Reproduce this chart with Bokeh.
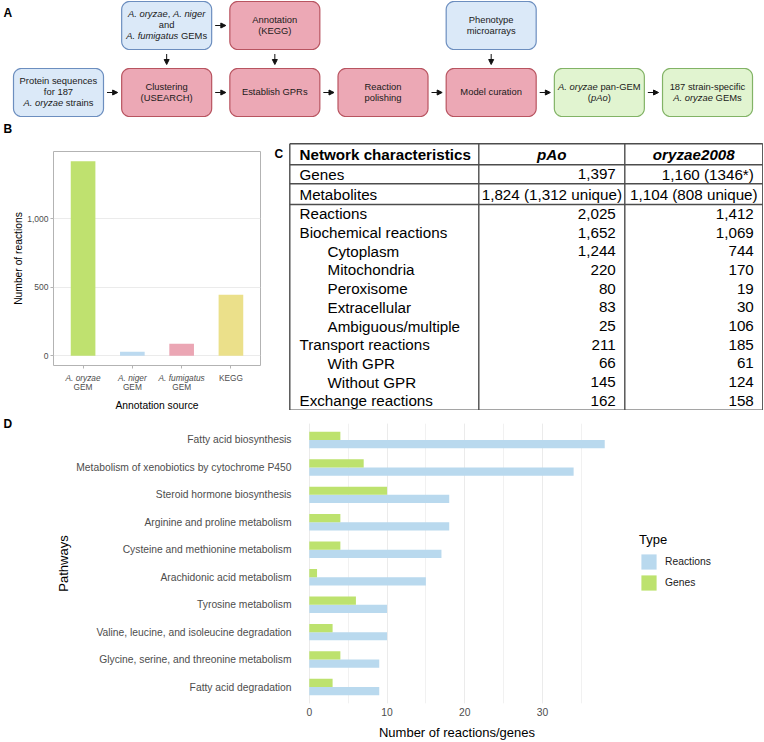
import math
from bokeh.plotting import figure
from bokeh.layouts import column, row
from bokeh.models import (Range1d, FactorRange, FixedTicker, NumeralTickFormatter,
                          SingleIntervalTicker, Legend, LegendItem, Arrow,
                          NormalHead, ColumnDataSource)
from bokeh.transform import dodge
from bokeh.core.properties import value
from bokeh.embed import file_html
from bokeh.resources import INLINE

FONT_NAME = "Liberation Sans"
FONT = value(FONT_NAME)

# ---------------- Panel A: workflow ----------------
flow_lower = ["Protein sequences|for 187|*A. oryzae* strains", "Clustering|(USEARCH)",
              "Establish GPRs", "Reaction|polishing", "Model curation",
              "*A. oryzae* pan-GEM|(*pAo*)", "187 strain-specific|*A. oryzae* GEMs"]
flow_lower_kind = ["input", "process", "process", "process", "process", "output", "output"]
flow_upper = ["*A. oryzae*, *A. niger*|and|*A. fumigatus* GEMs", "Annotation|(KEGG)",
              "Phenotype|microarrays"]
flow_upper_col = [1, 2, 4]
flow_upper_kind = ["input", "process", "input"]

# ---------------- Panel B: annotation sources ----------------
b_line1 = ["A. oryzae", "A. niger", "A. fumigatus", "KEGG"]
b_line2 = ["GEM", "GEM", "GEM", ""]
b_italic = [True, True, True, False]
b_values = [1420, 30, 88, 445]
b_colors = ["#bfe16f", "#bcdaf0", "#eba6b4", "#ebe08a"]
b_yticks = [0, 500, 1000]

# ---------------- Panel C: table ----------------
tbl_header = ["Network characteristics", "pAo", "oryzae2008"]
tbl_labels = ["Genes", "Metabolites", "Reactions", "Biochemical reactions", "Cytoplasm",
              "Mitochondria", "Peroxisome", "Extracellular", "Ambiguous/multiple",
              "Transport reactions", "With GPR", "Without GPR", "Exchange reactions"]
tbl_indent = [0, 0, 0, 0, 1, 1, 1, 1, 1, 0, 1, 1, 0]
tbl_pao = ["1,397", "1,824 (1,312 unique)", "2,025", "1,652", "1,244", "220", "80", "83",
           "25", "211", "66", "145", "162"]
tbl_ory = ["1,160 (1346*)", "1,104 (808 unique)", "1,412", "1,069", "744", "170", "19",
           "30", "106", "185", "61", "124", "158"]

# ---------------- Panel D: pathways ----------------
d_pathways = ["Fatty acid biosynthesis", "Metabolism of xenobiotics by cytochrome P450",
              "Steroid hormone biosynthesis", "Arginine and proline metabolism",
              "Cysteine and methionine metabolism", "Arachidonic acid metabolism",
              "Tyrosine metabolism", "Valine, leucine, and isoleucine degradation",
              "Glycine, serine, and threonine metabolism", "Fatty acid degradation"]
d_reactions = [38, 34, 18, 18, 17, 15, 10, 10, 9, 9]
d_genes = [4, 7, 10, 4, 4, 1, 6, 3, 4, 3]
d_types = ["Reactions", "Genes"]
d_colors = ["#b9d9ee", "#bde26e"]

# Arial / Liberation Sans advance widths (per 1000 em)
W = {' ': 278, 'a': 556, 'b': 556, 'c': 500, 'd': 556, 'e': 556, 'f': 278, 'g': 556,
     'h': 556, 'i': 222, 'j': 222, 'k': 500, 'l': 222, 'm': 833, 'n': 556, 'o': 556,
     'p': 556, 'q': 556, 'r': 333, 's': 500, 't': 278, 'u': 556, 'v': 500, 'w': 722,
     'x': 500, 'y': 500, 'z': 500, 'A': 667, 'B': 667, 'C': 722, 'D': 722, 'E': 667,
     'F': 611, 'G': 778, 'H': 722, 'I': 278, 'K': 667, 'M': 833, 'N': 722, 'O': 778,
     'P': 667, 'R': 722, 'S': 667, 'U': 722, '.': 278, ',': 278, '-': 333, '(': 333,
     ')': 333, '/': 278, '*': 389}


def text_width(s, size):
    return sum(W.get(ch, 556) for ch in s) * size / 1000.0


def parse(line):
    parts = line.split("*")
    return [(p, i % 2 == 1) for i, p in enumerate(parts) if p]


def rrect(l, r, t, b, rad, n=8):
    xs, ys = [], []
    corners = [(r - rad, t + rad, -90), (r - rad, b - rad, 0), (l + rad, b - rad, 90), (l + rad, t + rad, 180)]
    for cx, cy, a0 in corners:
        for k in range(n + 1):
            a = math.radians(a0 + 90.0 * k / n)
            xs.append(cx + rad * math.cos(a))
            ys.append(cy + rad * math.sin(a))
    return xs, ys


def canvas(w, h, xr, yr, left=0, right=0, top=0, bottom=0):
    p = figure(width=w, height=h, x_range=xr, y_range=yr, x_axis_type=None, y_axis_type=None,
               toolbar_location=None, output_backend="svg", outline_line_color=None,
               min_border_left=left, min_border_right=right, min_border_top=top,
               min_border_bottom=bottom)
    p.frame_align = False
    return p


def letter(p, x, y, t):
    p.text(x=[x], y=[y], text=[t], text_font=FONT, text_font_size="12px",
           text_font_style="bold", text_align="left", text_baseline="middle",
           text_color="#000000")


TOTAL_W = 763
KIND_STYLE = {"input": ("#dbe9f8", "#6c8ebf"),
              "process": ("#eca8b5", "#b85460"),
              "output": ("#e1f4d0", "#82b366")}

A_H = 117
pA = canvas(TOTAL_W, A_H, Range1d(0, TOTAL_W), Range1d(A_H, 0))

COL_X0, COL_STEP, BOX_W = 13.0, 108.17, 90.0
ROWS = {0: (1.0, 49.0), 1: (68.0, 116.0)}
FS_A = 9.4
LH_A = 10.8

boxes = [(c, 1, t, k) for c, (t, k) in enumerate(zip(flow_lower, flow_lower_kind))]
boxes += [(c, 0, t, k) for c, t, k in zip(flow_upper_col, flow_upper, flow_upper_kind)]

bx, by, bf, bl = [], [], [], []
norm = dict(x=[], y=[], text=[])
ital = dict(x=[], y=[], text=[])
for c, r, txt, kind in boxes:
    l = COL_X0 + c * COL_STEP
    rr = l + BOX_W
    t, b = ROWS[r]
    xs, ys = rrect(l, rr, t, b, 8)
    bx.append(xs); by.append(ys)
    bf.append(KIND_STYLE[kind][0]); bl.append(KIND_STYLE[kind][1])
    lines = txt.split("|")
    cx, cy = (l + rr) / 2, (t + b) / 2 - 0.8
    for i, line in enumerate(lines):
        yy = cy + (i - (len(lines) - 1) / 2) * LH_A
        segs = parse(line)
        tot = sum(text_width(s, FS_A) for s, _ in segs)
        xx = cx - tot / 2
        for s, it in segs:
            core = s.lstrip(" ")
            lead = text_width(s[:len(s) - len(core)], FS_A)
            d = ital if it else norm
            d["x"].append(xx + lead); d["y"].append(yy); d["text"].append(core.rstrip(" "))
            xx += text_width(s, FS_A)

pA.patches(xs=bx, ys=by, fill_color=bf, line_color=bl, line_width=1.2)
for d, style in ((norm, "normal"), (ital, "italic")):
    pA.text(x="x", y="y", text="text", source=ColumnDataSource(d), text_font=FONT,
            text_font_size=f"{FS_A}px", text_font_style=style, text_color="#1a1a1a",
            text_align="left", text_baseline="middle")


def add_arrow(p, x0, y0, x1, y1):
    p.add_layout(Arrow(end=NormalHead(size=5, fill_color="#111111", line_color="#111111", line_width=1),
                       x_start=x0, y_start=y0, x_end=x1, y_end=y1,
                       line_color="#111111", line_width=1))


ymid_low = sum(ROWS[1]) / 2
for c in range(len(flow_lower) - 1):
    add_arrow(pA, COL_X0 + c * COL_STEP + BOX_W + 3.5, ymid_low, COL_X0 + (c + 1) * COL_STEP - 4, ymid_low)
ymid_up = sum(ROWS[0]) / 2
add_arrow(pA, COL_X0 + flow_upper_col[0] * COL_STEP + BOX_W + 3.5, ymid_up,
          COL_X0 + flow_upper_col[1] * COL_STEP - 4, ymid_up)
for c in flow_upper_col:
    xc = COL_X0 + c * COL_STEP + BOX_W / 2
    add_arrow(pA, xc, ROWS[0][1] + 4.5, xc, ROWS[1][0] - 4)
letter(pA, 3, 12, "A")

# ---------------- Panel B ----------------
B_W = 270
B_L, B_R = 53, 10
B_TOP_H, B_FH, B_LAB_H = 34, 218, 38
B_PLOT_H = B_FH + 3
ymax_b = max(b_values)
ylo, yhi = -0.05 * ymax_b, 1.05 * ymax_b
xs_b = list(range(1, len(b_values) + 1))
xlo, xhi = 0.4, len(b_values) + 0.6

pBtop = canvas(B_W, B_TOP_H, Range1d(0, B_W), Range1d(B_TOP_H, 0))
letter(pBtop, 3, 11, "B")

pB = figure(width=B_W, height=B_PLOT_H, x_range=Range1d(xlo, xhi), y_range=Range1d(ylo, yhi),
            toolbar_location=None, output_backend="svg",
            min_border_left=B_L, min_border_right=B_R, min_border_top=0, min_border_bottom=3)
pB.frame_align = False
srcB = ColumnDataSource(dict(x=xs_b, top=b_values, color=b_colors))
pB.vbar(x="x", top="top", width=0.5, fill_color="color", line_color=None, source=srcB)
pB.outline_line_color = "#b3b3b3"
pB.outline_line_width = 1
pB.xgrid.visible = False
pB.ygrid.grid_line_color = "#ebebeb"
pB.ygrid.grid_line_width = 1
for ax in (pB.xaxis[0], pB.yaxis[0]):
    ax.axis_line_color = None
    ax.major_tick_line_color = "#b3b3b3"
    ax.major_tick_out = 3
    ax.major_tick_in = 0
    ax.minor_tick_out = 0
    ax.minor_tick_in = 0
    ax.major_label_text_font = FONT_NAME
    ax.major_label_text_color = "#4d4d4d"
    ax.axis_label_text_font = FONT_NAME
    ax.axis_label_text_font_style = "normal"
    ax.axis_label_text_font_size = "10.3px"
    ax.axis_label_text_color = "#000000"
pB.yaxis.ticker = FixedTicker(ticks=b_yticks)
pB.yaxis.formatter = NumeralTickFormatter(format="0,0")
pB.yaxis.major_label_text_font_size = "8.5px"
pB.yaxis.major_label_standoff = 2
pB.yaxis.axis_label = "Number of reactions"
pB.yaxis.axis_label_standoff = 0
pB.xaxis.ticker = FixedTicker(ticks=xs_b)
pB.xaxis.major_label_overrides = {x: " " for x in xs_b}
pB.xaxis.major_label_text_font_size = "1px"
pB.xaxis.major_label_standoff = 0

pBlab = canvas(B_W, B_LAB_H, pB.x_range, Range1d(B_LAB_H, 0), left=B_L, right=B_R)
it_src = dict(x=[], y=[], text=[])
no_src = dict(x=[], y=[], text=[])
for xv, l1, l2, it in zip(xs_b, b_line1, b_line2, b_italic):
    d = it_src if it else no_src
    d["x"].append(xv); d["y"].append(5.8); d["text"].append(l1)
    if l2:
        no_src["x"].append(xv); no_src["y"].append(14.8); no_src["text"].append(l2)
for d, style in ((no_src, "normal"), (it_src, "italic")):
    pBlab.text(x="x", y="y", text="text", source=ColumnDataSource(d), text_font=FONT,
               text_font_size="8.3px", text_font_style=style, text_color="#4d4d4d",
               text_align="center", text_baseline="middle")
pBlab.text(x=[(xlo + xhi) / 2], y=[32.5], text=["Annotation source"], text_font=FONT,
           text_font_size="10.3px", text_color="#000000", text_align="center",
           text_baseline="middle")

colB = column(pBtop, pB, pBlab)

# ---------------- Panel C table canvas ----------------
C_H = B_TOP_H + B_PLOT_H + B_LAB_H
C_Y0 = A_H
pC = canvas(TOTAL_W - B_W, C_H, Range1d(B_W, TOTAL_W), Range1d(C_Y0 + C_H, C_Y0))

FS_C = 15.2
col_x = [289.3, 478.3, 624.3, 762.3]
row_h = [21.0, 19.0, 20.7] + [18.7] * (len(tbl_labels) - 2)
row_edges = [143.3]
for h in row_h:
    row_edges.append(row_edges[-1] + h)
centers = [(row_edges[i] + row_edges[i + 1]) / 2 for i in range(len(row_h))]
hl = [row_edges[0], row_edges[1], row_edges[2], row_edges[3], row_edges[-1]]
pC.segment(x0=[col_x[0]] * len(hl), x1=[col_x[-1]] * len(hl), y0=hl, y1=hl,
           line_color="#4d4d4d", line_width=1.4)
pC.segment(x0=col_x, x1=col_x, y0=[row_edges[0]] * 4, y1=[row_edges[-1]] * 4,
           line_color="#4d4d4d", line_width=1.4)
pC.text(x=[col_x[0] + 9.7], y=[centers[0]], text=[tbl_header[0]], text_font=FONT,
        text_font_size=f"{FS_C}px", text_font_style="bold", text_align="left",
        text_baseline="middle", text_color="#000000")
pC.text(x=[(col_x[1] + col_x[2]) / 2, (col_x[2] + col_x[3]) / 2], y=[centers[0]] * 2,
        text=tbl_header[1:], text_font=FONT, text_font_size=f"{FS_C}px",
        text_font_style="bold italic", text_align="center", text_baseline="middle",
        text_color="#000000")
lab_x = [col_x[0] + 9.7 + 28 * ind for ind in tbl_indent]
pC.text(x=lab_x, y=centers[1:], text=tbl_labels, text_font=FONT, text_font_size=f"{FS_C}px",
        text_align="left", text_baseline="middle", text_color="#000000")
for ci, vals in ((1, tbl_pao), (2, tbl_ory)):
    cw = col_x[ci + 1] - col_x[ci]
    vx = [col_x[ci + 1] - min(9.0, (cw - text_width(v, FS_C)) / 2) for v in vals]
    pC.text(x=vx, y=centers[1:], text=vals, text_font=FONT, text_font_size=f"{FS_C}px",
            text_align="right", text_baseline="middle", text_color="#000000")
letter(pC, 274, 153, "C")

# ---------------- Panel D ----------------
D_H = 331
D_LW = 20
D_L, D_T = 274, 13
D_FW, D_FH = 325, 280
D_B = D_H - D_T - D_FH
D_LEG_W = TOTAL_W - D_LW - D_L - D_FW
pDl = canvas(D_LW, D_H, Range1d(0, D_LW), Range1d(D_H, 0))
letter(pDl, 3, 13, "D")

dmax = max(max(d_reactions), max(d_genes))
dlo, dhi = -0.05 * dmax, 1.05 * dmax
ncat = len(d_pathways)
# discrete axis padding: 0.6 of a category beyond the first and last centres
pad_pct = (1.2 - 1.0) / ncat
pD = figure(frame_width=D_FW, frame_height=D_FH, x_range=Range1d(dlo, dhi),
            y_range=FactorRange(factors=d_pathways[::-1], range_padding=pad_pct,
                                range_padding_units="percent"),
            toolbar_location=None, output_backend="svg",
            min_border_left=D_L, min_border_right=0, min_border_top=D_T, min_border_bottom=D_B)
pD.frame_align = False
srcD = ColumnDataSource(dict(pathway=d_pathways, reactions=d_reactions, genes=d_genes))
r_react = pD.hbar(y=dodge("pathway", -0.15, range=pD.y_range), right="reactions", left=0,
                  height=0.3, fill_color=d_colors[0], line_color=None, source=srcD)
r_genes = pD.hbar(y=dodge("pathway", 0.15, range=pD.y_range), right="genes", left=0,
                  height=0.3, fill_color=d_colors[1], line_color=None, source=srcD)
pD.outline_line_color = None
pD.ygrid.visible = False
pD.xaxis.ticker = SingleIntervalTicker(interval=10, num_minor_ticks=2)
pD.xgrid.grid_line_color = "#ebebeb"
pD.xgrid.grid_line_width = 1
pD.xgrid.minor_grid_line_color = "#ededed"
pD.xgrid.minor_grid_line_width = 0.8
for ax in (pD.xaxis[0], pD.yaxis[0]):
    ax.axis_line_color = None
    ax.major_tick_line_color = None
    ax.minor_tick_line_color = None
    ax.major_tick_out = 0
    ax.major_tick_in = 0
    ax.minor_tick_out = 0
    ax.minor_tick_in = 0
    ax.major_label_text_font = FONT_NAME
    ax.major_label_text_font_size = "10.3px"
    ax.major_label_text_color = "#4d4d4d"
    ax.axis_label_text_font = FONT_NAME
    ax.axis_label_text_font_style = "normal"
    ax.axis_label_text_font_size = "13px"
    ax.axis_label_text_color = "#000000"
pD.xaxis.major_label_standoff = 4
pD.xaxis.axis_label = "Number of reactions/genes"
pD.xaxis.axis_label_standoff = 6
pD.yaxis.major_label_standoff = 3
pD.yaxis.axis_label = "Pathways"
pD.yaxis.axis_label_standoff = 2

# legend in its own small canvas to the right of the plot; its two key renderers
# sit outside the canvas range so only the legend keys show
pDleg = canvas(D_LEG_W, D_H, Range1d(0, 1), Range1d(0, 1), bottom=28)
lr1 = pDleg.hbar(y=[5], left=[5], right=[6], height=0.3, fill_color=d_colors[0], line_color=None)
lr2 = pDleg.hbar(y=[5], left=[5], right=[6], height=0.3, fill_color=d_colors[1], line_color=None)
legend = Legend(items=[LegendItem(label=d_types[0], renderers=[lr1]),
                       LegendItem(label=d_types[1], renderers=[lr2])],
                title="Type", location="center_left", orientation="vertical")
legend.title_text_font = FONT_NAME
legend.title_text_font_size = "13px"
legend.title_text_font_style = "normal"
legend.title_text_color = "#000000"
legend.title_standoff = 5
legend.label_text_font = FONT_NAME
legend.label_text_font_size = "10.3px"
legend.label_text_color = "#1a1a1a"
legend.glyph_width = 19
legend.glyph_height = 19
legend.label_height = 19
legend.label_standoff = 7
legend.spacing = 2
legend.padding = 0
legend.margin = 20
legend.border_line_color = None
legend.background_fill_alpha = 0
pDleg.add_layout(legend)

layout = column(pA, row(colB, pC), row(pDl, pD, pDleg))
open("out.html", "w").write(file_html(layout, INLINE))
